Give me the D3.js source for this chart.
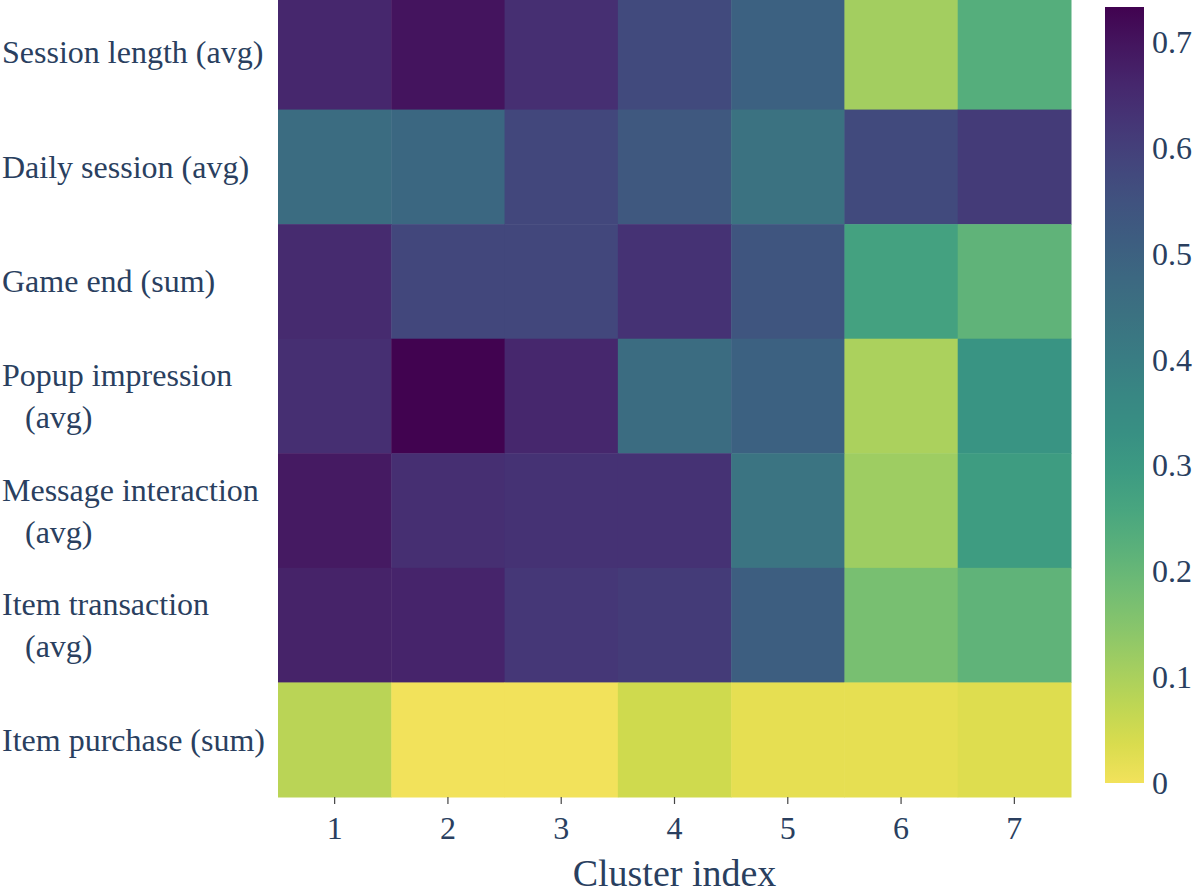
<!DOCTYPE html>
<html>
<head>
<meta charset="utf-8">
<script src="https://d3js.org/d3.v7.min.js"></script>
<style>
  body { margin: 0; background: #fff; }
  text { font-family: "Liberation Serif", "Times New Roman", serif; fill: #2a3f5f; }
</style>
</head>
<body>
<div id="vis"></div>
<script>
const FRAME_WIDTH = 1196;
const FRAME_HEIGHT = 893;

// data
const CLUSTERS = [1, 2, 3, 4, 5, 6, 7];
const FEATURES = [
  ["Session length (avg)"],
  ["Daily session (avg)"],
  ["Game end (sum)"],
  ["Popup impression", "(avg)"],
  ["Message interaction", "(avg)"],
  ["Item transaction", "(avg)"],
  ["Item purchase (sum)"]
];
const SESSION_LENGTH  = [0.66, 0.70, 0.64, 0.57, 0.50, 0.11, 0.23];
const DAILY_SESSION   = [0.46, 0.48, 0.58, 0.53, 0.44, 0.57, 0.61];
const GAME_END        = [0.65, 0.58, 0.58, 0.63, 0.54, 0.27, 0.21];
const POPUP_IMPR      = [0.64, 0.733, 0.66, 0.46, 0.50, 0.10, 0.32];
const MESSAGE_INTER   = [0.69, 0.64, 0.63, 0.63, 0.43, 0.115, 0.29];
const ITEM_TRANS      = [0.67, 0.665, 0.62, 0.61, 0.51, 0.17, 0.21];
const ITEM_PURCHASE   = [0.08, 0.0, 0.0, 0.05, 0.02, 0.02, 0.03];
const COLORBAR_TICKS  = [0, 0.1, 0.2, 0.3, 0.4, 0.5, 0.6, 0.7];

const ROWS = [SESSION_LENGTH, DAILY_SESSION, GAME_END, POPUP_IMPR,
              MESSAGE_INTER, ITEM_TRANS, ITEM_PURCHASE];

const cells = [];
ROWS.forEach((row, i) => {
  row.forEach((v, j) => {
    cells.push({row: i, col: CLUSTERS[j], value: v});
  });
});

const PLOT = {left: 278, right: 1071, top: -5, bottom: 797};
const CBAR = {left: 1105, width: 39, top: 7, bottom: 783};

const VMAX = d3.max(cells, (d) => d.value);

// reversed viridis, washed out a bit like the picture (less so on the purples)
const WASH = d3.scaleLinear().domain([0, 0.4]).range([0.08, 0.3]).clamp(true);
function washed(t) {
  const c = d3.rgb(d3.interpolateViridis(t));
  const L = 0.299 * c.r + 0.587 * c.g + 0.114 * c.b;
  const k = WASH(t);
  return d3.rgb(c.r + (L - c.r) * k, c.g + (L - c.g) * k, c.b + (L - c.b) * k).formatHex();
}
const COLOR = (v) => washed(1 - v / VMAX);

const X_SCALE = d3.scaleBand()
                  .domain(CLUSTERS)
                  .range([PLOT.left, PLOT.right]);
const Y_SCALE = d3.scaleBand()
                  .domain(d3.range(FEATURES.length))
                  .range([PLOT.top, PLOT.bottom]);
const C_SCALE = d3.scaleLinear()
                  .domain([0, VMAX])
                  .range([CBAR.bottom, CBAR.top]);

const svg = d3.select("#vis")
              .append("svg")
                .attr("width", FRAME_WIDTH)
                .attr("height", FRAME_HEIGHT);

// heatmap cells
svg.selectAll(".cell")
   .data(cells)
   .enter()
   .append("rect")
     .attr("class", "cell")
     .attr("x", (d) => X_SCALE(d.col))
     .attr("y", (d) => Y_SCALE(d.row))
     .attr("width", X_SCALE.bandwidth() + 0.5)
     .attr("height", Y_SCALE.bandwidth() + 0.5)
     .attr("fill", (d) => COLOR(d.value));

// x axis
const xAxis = svg.append("g")
   .attr("transform", "translate(0," + PLOT.bottom + ")")
   .call(d3.axisBottom(X_SCALE).tickSize(7).tickPadding(12));
xAxis.select(".domain").remove();
xAxis.selectAll(".tick line").attr("stroke", "#444").attr("stroke-width", 1.2);
xAxis.selectAll(".tick text")
     .attr("font-size", "32px")
     .attr("fill", "#2a3f5f");

svg.append("text")
   .attr("x", (PLOT.left + PLOT.right) / 2)
   .attr("y", 886)
   .attr("text-anchor", "middle")
   .attr("font-size", "38px")
   .text("Cluster index");

// y labels (left aligned, second line indented)
const yLab = svg.selectAll(".ylab")
   .data(FEATURES)
   .enter()
   .append("text")
     .attr("class", "ylab")
     .attr("font-size", "32px");
yLab.each(function(lines, i) {
  const cy = Y_SCALE(i) + Y_SCALE.bandwidth() / 2;
  const t = d3.select(this);
  if (lines.length === 1) {
    t.append("tspan").attr("x", 2).attr("y", cy + 11).text(lines[0]);
  } else {
    t.append("tspan").attr("x", 2).attr("y", cy - 10).text(lines[0]);
    t.append("tspan").attr("x", 25).attr("y", cy + 32).text(lines[1]);
  }
});

// colorbar
const grad = svg.append("defs")
   .append("linearGradient")
     .attr("id", "cbar")
     .attr("x1", 0).attr("y1", 1)
     .attr("x2", 0).attr("y2", 0);
grad.selectAll("stop")
    .data(d3.range(0, 1.0001, 0.05))
    .enter()
    .append("stop")
      .attr("offset", (d) => d)
      .attr("stop-color", (d) => washed(1 - d));

svg.append("rect")
   .attr("x", CBAR.left)
   .attr("y", CBAR.top)
   .attr("width", CBAR.width)
   .attr("height", CBAR.bottom - CBAR.top)
   .attr("fill", "url(#cbar)");

svg.selectAll(".cbtick")
   .data(COLORBAR_TICKS)
   .enter()
   .append("text")
     .attr("class", "cbtick")
     .attr("x", CBAR.left + CBAR.width + 8)
     .attr("y", (d) => C_SCALE(d) + 11)
     .attr("font-size", "32px")
     .text((d) => d3.format("")(d));
</script>
</body>
</html>
